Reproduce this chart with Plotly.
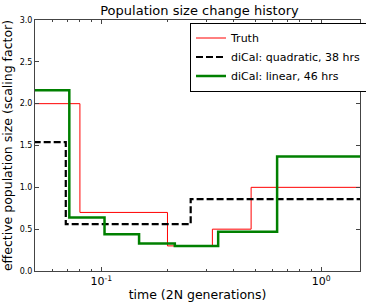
import math
import plotly.graph_objects as go

# Step change points (time, 2N generations) and the level after each
truth_times = [0.08, 0.2, 0.32, 0.48]
truth_values = [2.0, 0.7, 0.3, 0.5, 1.0]

quad_times = [0.069, 0.255]
quad_values = [1.54, 0.56, 0.86]

lin_times = [0.0716, 0.1035, 0.1486, 0.216, 0.34, 0.63]
lin_values = [2.16, 0.64, 0.44, 0.33, 0.30, 0.47, 1.37]

x_min, x_max = 0.05, 1.5
y_ticks = [0.0, 0.5, 1.0, 1.5, 2.0, 2.5, 3.0]
x_major = [0.1, 1.0]
x_major_text = ["10<sup>-1</sup>", "10<sup>0</sup>"]
x_minor = [0.05, 0.06, 0.07, 0.08, 0.09, 0.2, 0.3, 0.4, 0.5, 0.6, 0.7, 0.8, 0.9]


def step_xy(times, values):
    xs = [0.04] + list(times) + [2.0]
    ys = list(values) + [values[-1]]
    return xs, ys


fig = go.Figure()
series = [
    ("Truth", truth_times, truth_values, dict(color="#ff0000", width=1)),
    ("diCal: quadratic, 38 hrs", quad_times, quad_values, dict(color="black", width=2.2, dash="7px,3px")),
    ("diCal: linear, 46 hrs", lin_times, lin_values, dict(color="#008000", width=2.5)),
]
for name, t, v, ln in series:
    xs, ys = step_xy(t, v)
    fig.add_trace(go.Scatter(x=xs, y=ys, mode="lines", line_shape="hv",
                             name=name, line=ln))

fig.update_layout(
    width=366, height=302,
    margin=dict(l=35, r=6, t=20, b=31, autoexpand=False),
    paper_bgcolor="white", plot_bgcolor="white",
    font=dict(family="DejaVu Sans", color="black"),
    title=dict(text="Population size change history", x=0.545, xanchor="center",
               y=1 - 10 / 302, yanchor="middle", font=dict(size=13)),
    showlegend=True,
    legend=dict(x=(190 - 35) / 325, y=0.99, xanchor="left", yanchor="top",
                bordercolor="black", borderwidth=1, bgcolor="white",
                font=dict(size=11), tracegroupgap=0, itemwidth=30),
)
fig.update_xaxes(
    type="log", range=[math.log10(x_min), math.log10(x_max)], automargin=False,
    tickvals=x_major, ticktext=x_major_text, tickfont=dict(size=11),
    ticks="inside", ticklen=4, tickcolor="#444", mirror="ticks",
    showline=True, linecolor="#444", linewidth=1, showgrid=False, zeroline=False,
    minor=dict(tickvals=x_minor, ticks="inside", ticklen=2, tickcolor="#444", showgrid=False),
    title=dict(text="time (2N generations)", font=dict(size=12.5)),
)
fig.update_yaxes(
    range=[0, 3.0], tickvals=y_ticks, ticktext=[f"{v:.1f}" for v in y_ticks],
    tickfont=dict(size=8), automargin=False,
    ticks="inside", ticklen=4, tickcolor="#444", mirror="ticks",
    showline=True, linecolor="#444", linewidth=1, showgrid=False, zeroline=False,
    title=dict(text="effective population size (scaling factor)", font=dict(size=12.5)),
)
fig.write_html("out.html", config={"displayModeBar": False},
               post_script="document.body.style.margin='0';document.body.style.overflow='hidden';")
